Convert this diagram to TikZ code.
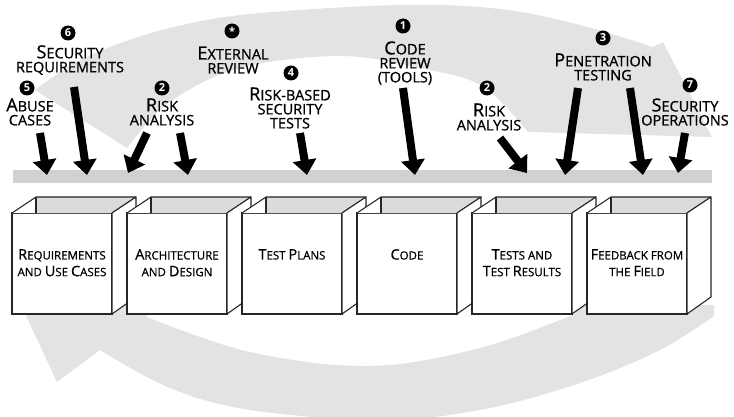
\documentclass[tikz,border=0pt]{standalone}
\usepackage{fontspec}
\setmainfont{Open Sans}
\newfontfamily\tpfont{Open Sans}[FakeBold=0.8]
\usepackage{graphicx}
\usetikzlibrary{arrows.meta,positioning}

\newcommand{\ini}[1]{\scalebox{1.25}{#1}}
\newcommand{\lblfont}{\tpfont\fontsize{14.5}{14}\selectfont}
\newcommand{\boxfont}{\tpfont\fontsize{11.5}{16.7}\selectfont}

\definecolor{bandgray}{gray}{0.89}
\definecolor{bargray}{gray}{0.82}
\definecolor{wallgray}{gray}{0.86}

\tikzset{
  lbl/.style={align=center, font=\lblfont, inner sep=0pt},
  boxtxt/.style={align=center, font=\boxfont, inner sep=0pt},
  numdot/.style={shape=circle, fill=black, text=white, inner sep=0pt, minimum size=15pt, font=\bfseries\fontsize{11}{11}\selectfont},
  face/.style={draw=black!85, line width=1.1pt, fill=white, minimum width=100pt, minimum height=101pt, inner sep=0pt, outer sep=0pt},
  boxline/.style={draw=black!85, line width=1.1pt, line join=round},
  bigarrow/.style={line width=8pt, -{Triangle[length=15pt,width=23pt]}},
}

\begin{document}
\begin{tikzpicture}[x=1pt,y=-1pt]
    \useasboundingbox (0,0) rectangle (734,417);

    % the two big loop arrows
    \fill[bandgray] plot[smooth, tension=0.6] coordinates {(35,90) (70,66) (110,47) (170,28) (250,14) (400,5) (500,9) (580,25) (653,47)}
        -- (663,42) -- (712,137) -- (528,132)
        -- plot[smooth, tension=0.6] coordinates {(528,132) (482,86) (420,68) (340,56) (240,68) (170,102) (127,148)} -- cycle;
    \fill[bandgray] (14,290) -- (57,382)
        -- plot[smooth, tension=0.6] coordinates {(100,350) (170,388) (250,410) (380,420) (480,410) (580,383) (660,350) (714,316)}
        -- (714,305) -- (578,305)
        -- plot[smooth, tension=0.6] coordinates {(575,314) (480,348) (370,366) (250,352) (147,317)} -- (146,302) -- (160,290) -- cycle;

    \node[fill=bargray, minimum width=699pt, minimum height=13pt, inner sep=0pt] (bar) at (362.5,176.5) {};

    % artifact boxes
    \foreach \bx/\x in {req/62,arch/177,plans/292,code/407,tests/522,field/637}{
        \node[face] (\bx) at (\x,263.5) {};
        \fill[white] (\bx.north west) -- ++(24,-16) -- ++(100,0) -- (\bx.north east) -- cycle;
        \fill[wallgray] (\bx.north west) ++(24,0) -- ++(0,-16) -- ++(100,0) -- (\bx.north east) -- cycle;
        \draw[boxline] (\bx.north west) -- ++(24,-16) coordinate (\bx-bl) -- ++(100,0) coordinate (\bx-br) -- (\bx.north east);
        \draw[boxline] (\bx-bl) -- ++(0,16);
        \filldraw[boxline, fill=white] (\bx.north east) -- (\bx-br) -- ++(0,100) -- (\bx.south east) -- cycle;
    }

    \node[boxtxt, below=36pt of req.north] (req-t) {\ini{R}EQUIREMENTS\\AND \ini{U}SE \ini{C}ASES};
    \node[boxtxt, below=36pt of arch.north] (arch-t) {\ini{A}RCHITECTURE\\AND \ini{D}ESIGN};
    \node[boxtxt, below=36pt of plans.north] (plans-t) {\ini{T}EST \ini{P}LANS};
    \node[boxtxt, below=36pt of code.north] (code-t) {\ini{C}ODE};
    \node[boxtxt, below=36pt of tests.north] (tests-t) {\ini{T}ESTS AND\\\ini{T}EST \ini{R}ESULTS};
    \node[boxtxt, below=36pt of field.north] (field-t) {\ini{F}EEDBACK FROM\\THE \ini{F}IELD};

    % touchpoints
    \node[numdot] (n6) at (68,33) {6};
    \node[lbl] (secreq) at (70,60) {\ini{S}ECURITY\\REQUIREMENTS};
    \node[numdot] (n5) at (27,88) {5};
    \node[lbl] (abuse) at (30,112) {\ini{A}BUSE\\CASES};
    \node[numdot] (n2a) at (162,88) {2};
    \node[lbl] (riskl) at (162,112) {\ini{R}ISK\\ANALYSIS};
    \node[numdot] (nx) at (232,31) {*};
    \node[lbl] (extrev) at (233,60) {\ini{E}XTERNAL\\REVIEW};
    \node[numdot] (n4) at (291,73) {4};
    \node[lbl] (rbst) at (290,108) {\ini{R}ISK-BASED\\SECURITY\\TESTS};
    \node[numdot] (n1) at (403,26) {1};
    \node[lbl] (codrev) at (405,63) {\ini{C}ODE\\REVIEW\\(TOOLS)};
    \node[numdot] (n2b) at (487,88) {2};
    \node[lbl] (riskr) at (489,117) {\ini{R}ISK\\ANALYSIS};
    \node[numdot] (n3) at (603,38) {3};
    \node[lbl] (pen) at (603,67) {\ini{P}ENETRATION\\TESTING};
    \node[numdot] (n7) at (690,85) {7};
    \node[lbl] (secops) at (685,112) {\ini{S}ECURITY\\OPERATIONS};

    \coordinate (abuse-s) at (40,133);  \coordinate (abuse-e) at (47,175);
    \coordinate (secreq-s) at (74,87);  \coordinate (secreq-e) at (87,175);
    \coordinate (riskl-s1) at (147,133); \coordinate (riskl-e1) at (128,173);
    \coordinate (riskl-s2) at (180,133); \coordinate (riskl-e2) at (188,175);
    \coordinate (rbst-s) at (300,133);  \coordinate (rbst-e) at (307,175);
    \coordinate (codrev-s) at (403,88); \coordinate (codrev-e) at (415,175);
    \coordinate (riskr-s) at (500,138); \coordinate (riskr-e) at (527,173);
    \coordinate (pen-s1) at (578,88);   \coordinate (pen-e1) at (565,175);
    \coordinate (pen-s2) at (630,88);   \coordinate (pen-e2) at (643,175);
    \coordinate (secops-s) at (685,133); \coordinate (secops-e) at (678,173);

    \path [bigarrow](abuse-s) edge (abuse-e);
    \path [bigarrow](secreq-s) edge (secreq-e);
    \path [bigarrow](riskl-s1) edge (riskl-e1);
    \path [bigarrow](riskl-s2) edge (riskl-e2);
    \path [bigarrow](rbst-s) edge (rbst-e);
    \path [bigarrow](codrev-s) edge (codrev-e);
    \path [bigarrow](riskr-s) edge (riskr-e);
    \path [bigarrow](pen-s1) edge (pen-e1);
    \path [bigarrow](pen-s2) edge (pen-e2);
    \path [bigarrow](secops-s) edge (secops-e);
\end{tikzpicture}
\end{document}
